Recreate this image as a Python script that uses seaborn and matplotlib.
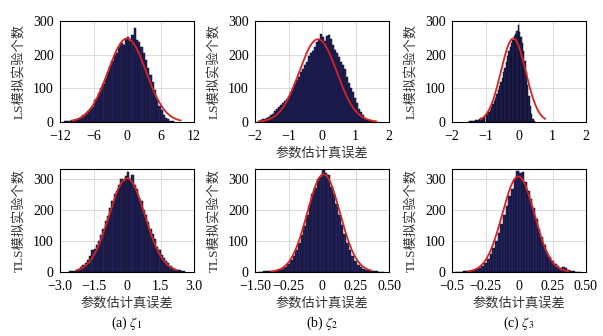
import numpy as np
import pandas as pd
import seaborn as sns
import matplotlib.pyplot as plt

sns.set_style("white")
plt.rcParams["font.family"] = ["Liberation Serif", "Noto Sans CJK SC"]
plt.rcParams["mathtext.fontset"] = "stix"
plt.rcParams["axes.unicode_minus"] = True

# ---- histogram bin counts (LS estimates, top row) ----
ls1_start, ls1_width = -11.2, 0.4
ls1_counts = [2, 3, 4, 5, 6, 8, 10, 14, 20, 26, 33, 38, 45, 66, 72, 85, 100, 112,
              130, 150, 165, 182, 198, 205, 222, 235, 228, 248, 252, 240, 258, 280,
              245, 238, 222, 205, 185, 160, 140, 118, 95, 68, 48, 35, 22, 13, 8, 4, 2]

ls2_start, ls2_width = -1.92, 0.06
ls2_counts = [4, 6, 8, 10, 12, 16, 20, 25, 32, 38, 44, 50, 56, 62, 68, 78, 90, 100,
              112, 125, 135, 148, 158, 168, 178, 195, 205, 212, 222, 238, 245, 262,
              252, 240, 255, 258, 248, 230, 215, 205, 192, 178, 170, 158, 135, 115,
              100, 88, 72, 55, 40, 30, 20, 12, 8, 5, 3]

ls3_start, ls3_width = -1.48, 0.04
ls3_counts = [2, 3, 3, 4, 5, 6, 7, 9, 11, 13, 16, 19, 22, 26, 30, 36, 44, 52, 62,
              72, 84, 96, 108, 120, 132, 148, 160, 178, 195, 210, 222, 235, 245, 255,
              262, 270, 288, 268, 252, 235, 210, 180, 148, 110, 78, 48, 24, 10, 3]

# ---- histogram bin counts (TLS estimates, bottom row) ----
tls1_start, tls1_width = -2.6, 0.1
tls1_counts = [2, 3, 4, 8, 10, 15, 22, 30, 38, 50, 70, 75, 88, 100, 118, 140, 165,
               180, 205, 228, 252, 262, 280, 300, 292, 310, 322, 300, 312, 282, 268,
               240, 228, 200, 185, 160, 138, 122, 105, 82, 72, 55, 45, 35, 28, 20,
               14, 10, 7, 5, 3, 2]

tls2_start, tls2_width = -0.48, 0.02
tls2_counts = [1, 1, 2, 2, 2, 3, 3, 5, 8, 11, 17, 25, 38, 52, 72, 95, 118, 148, 185,
               218, 250, 272, 300, 305, 335, 320, 312, 275, 252, 218, 185, 152, 122,
               94, 70, 50, 36, 24, 16, 10, 7, 5, 3, 2, 2, 1, 1]

tls3_start, tls3_width = -0.48, 0.02
tls3_counts = [1, 1, 1, 2, 2, 3, 4, 6, 9, 14, 20, 30, 42, 58, 78, 100, 125, 155, 185,
               212, 245, 268, 300, 325, 318, 322, 290, 262, 235, 205, 172, 140, 112,
               88, 66, 48, 36, 25, 18, 14, 15, 12, 7, 4, 2, 1, 1]

# ---- fitted normal curves: mean, std, peak height, drawn span ----
fit_mean = [0.0, -0.12, -0.17, 0.0, 0.012, -0.005]
fit_std = [3.4, 0.56, 0.37, 0.80, 0.122, 0.12]
fit_peak = [248, 246, 248, 302, 315, 308]
fit_lo = [-9.7, -1.88, -1.15, -2.28, -0.38, -0.38]
fit_hi = [9.6, 1.62, 0.78, 2.22, 0.37, 0.37]

# ---- axis ticks and labels ----
top_xticks = [[-12, -6, 0, 6, 12], [-2, -1, 0, 1, 2], [-2, -1, 0, 1, 2]]
top_xticklabels = [["−12", "−6", "0", "6", "12"],
                   ["−2", "−1", "0", "1", "2"],
                   ["−2", "−1", "0", "1", "2"]]
bot_xticks = [[-3, -1.5, 0, 1.5, 3], [-0.5, -0.25, 0, 0.25, 0.5],
              [-0.5, -0.25, 0, 0.25, 0.5]]
bot_xticklabels = [["−3.0", "−1.5", "0", "1.5", "3.0"],
                   ["−1.50", "−0.25", "0", "0.25", "0.50"],
                   ["−0.5", "−0.25", "0", "0.25", "0.50"]]
yticks = [0, 100, 200, 300]
ls_ylabel = "LS模拟实验个数"
tls_ylabel = "TLS模拟实验个数"
xlabel_text = "参数估计真误差"
captions = [r"(a) $\zeta_1$", r"(b) $\zeta_2$", r"(c) $\zeta_3$"]

hist_sets = [(ls1_start, ls1_width, ls1_counts), (ls2_start, ls2_width, ls2_counts),
             (ls3_start, ls3_width, ls3_counts), (tls1_start, tls1_width, tls1_counts),
             (tls2_start, tls2_width, tls2_counts), (tls3_start, tls3_width, tls3_counts)]

W, H = 603, 336
fig = plt.figure(figsize=(W / 100, H / 100), dpi=100)

col_left = [60, 255, 452]
col_w = 134
row_top = [21, 169]
row_h = [101, 103]

bar_face = "#24235c"
bar_edge = "#0b0b22"
curve_col = "#d8231f"
grid_col = "#d4d4d4"
label_col = "#333333"

for i in range(6):
    r, c = divmod(i, 3)
    x0 = col_left[c] / W
    y0 = 1 - (row_top[r] + row_h[r]) / H
    ax = fig.add_axes([x0, y0, col_w / W, row_h[r] / H])

    start, width, counts = hist_sets[i]
    nbins = len(counts)
    centers = start + width * (np.arange(nbins) + 0.5)
    df = pd.DataFrame({"err": centers, "n": counts})
    sns.histplot(data=df, x="err", weights="n", bins=nbins,
                 binrange=(start, start + width * nbins), ax=ax, color=bar_face,
                 edgecolor=bar_edge, linewidth=0.35, alpha=1.0, zorder=2)

    xs = np.linspace(fit_lo[i], fit_hi[i], 300)
    ys = fit_peak[i] * np.exp(-0.5 * ((xs - fit_mean[i]) / fit_std[i]) ** 2)
    sns.lineplot(x=xs, y=ys, ax=ax, color=curve_col, linewidth=1.3, zorder=3)

    if r == 0:
        ticks, tlabels = top_xticks[c], top_xticklabels[c]
        ax.set_ylim(0, 300)
        ylab = ls_ylabel
    else:
        ticks, tlabels = bot_xticks[c], bot_xticklabels[c]
        ax.set_ylim(0, 332)
        ylab = tls_ylabel
    ax.set_xlim(ticks[0], ticks[-1])
    ax.set_xticks(ticks)
    ax.set_xticklabels(tlabels)
    ax.set_yticks(yticks)
    ax.set_yticklabels([str(v) for v in yticks])

    ax.set_axisbelow(True)
    ax.grid(True, color=grid_col, linewidth=0.6)
    for sp in ax.spines.values():
        sp.set_visible(True)
        sp.set_color("black")
        sp.set_linewidth(0.8)
    ax.tick_params(direction="in", length=2.5, width=0.6, labelsize=10,
                   colors="black")
    ax.tick_params(axis="x", pad=5.5)
    ax.tick_params(axis="y", pad=4.5)

    ax.set_xlabel("")
    ax.set_ylabel(ylab, fontsize=9.5, color=label_col)
    ax.yaxis.set_label_coords(-35 / col_w, 0.5)

    if r == 1 or c == 1:
        ax.text(0.5, -31 / row_h[r], xlabel_text, transform=ax.transAxes,
                ha="center", va="center", fontsize=9.5, color=label_col)
    if r == 1:
        ax.text(0.5, -51 / row_h[r], captions[c], transform=ax.transAxes,
                ha="center", va="center", fontsize=10, color="black")

fig.savefig("out.png", dpi=100, facecolor="white")
